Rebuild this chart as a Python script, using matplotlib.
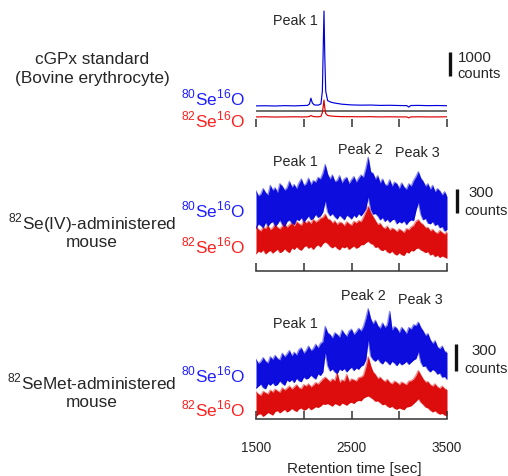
import numpy as np
import matplotlib.pyplot as plt

plt.rcParams['font.family'] = 'Liberation Sans'
plt.rcParams['mathtext.fontset'] = 'custom'
plt.rcParams['mathtext.rm'] = 'Liberation Sans'

# retention time grid (sec), every 25 s
t = np.arange(1500, 3501, 25)

# cGPx standard: thin traces (counts, offset for display)
t_std = [1500, 1600, 1700, 1800, 1900, 2000, 2040, 2060, 2075, 2090, 2110, 2150,
         2180, 2195, 2205, 2212, 2220, 2230, 2250, 2280, 2320, 2400, 2500, 2600,
         2700, 2800, 2900, 3000, 3080, 3100, 3120, 3200, 3300, 3400, 3500]
std_80 = [880, 885, 875, 890, 880, 895, 900, 960, 1200, 1000, 920, 910,
          960, 1500, 3500, 4830, 3000, 1500, 1100, 1040, 1000, 950, 920, 910,
          915, 900, 905, 895, 890, 830, 895, 900, 890, 895, 885]
std_82 = [420, 425, 415, 420, 425, 420, 425, 440, 480, 450, 430, 425,
          440, 600, 900, 1125, 800, 560, 480, 460, 445, 430, 430, 425,
          430, 420, 425, 420, 420, 380, 420, 425, 420, 420, 425]

# 82Se(IV)-administered mouse: noisy band, upper / lower envelope (counts)
se4_80_hi = [1000, 940, 960, 1030, 980, 950, 1070, 1010, 1040, 980,
             1090, 1060, 1010, 1040, 1120, 1050, 1080, 1030, 1100, 1150,
             1070, 1090, 1160, 1080, 1130, 1110, 1170, 1150, 1220, 1330,
             1210, 1150, 1200, 1120, 1130, 1190, 1100, 1150, 1170, 1090,
             1140, 1180, 1110, 1160, 1200, 1170, 1280, 1420, 1240, 1220,
             1150, 1190, 1100, 1150, 1080, 1070, 1140, 1060, 1110, 1090,
             1030, 1100, 1050, 1020, 1090, 1060, 1130, 1180, 1240, 1160,
             1120, 1060, 1090, 1020, 1070, 990, 1030, 1000, 950, 990,
             930]
se4_80_lo = [530, 590, 570, 540, 610, 560, 600, 620, 560, 590,
             640, 580, 560, 620, 640, 600, 580, 650, 630, 670,
             610, 650, 690, 640, 660, 710, 670, 690, 740, 880,
             740, 690, 720, 680, 650, 700, 670, 640, 700, 680,
             650, 700, 670, 720, 690, 730, 780, 930, 770, 710,
             720, 690, 640, 670, 620, 650, 610, 640, 650, 590,
             620, 600, 630, 580, 620, 640, 630, 760, 860, 710,
             640, 660, 600, 590, 620, 570, 590, 540, 560, 500,
             520]
se4_82_hi = [560, 520, 500, 545, 530, 570, 515, 540, 580, 545,
             525, 560, 590, 545, 575, 600, 560, 615, 590, 570,
             630, 600, 625, 590, 645, 610, 630, 660, 670, 710,
             650, 640, 600, 625, 580, 610, 600, 565, 615, 590,
             570, 620, 600, 630, 615, 670, 740, 810, 730, 680,
             630, 580, 595, 550, 530, 560, 510, 535, 520, 490,
             525, 505, 480, 530, 515, 550, 570, 620, 640, 600,
             580, 540, 545, 500, 520, 485, 470, 505, 480, 460,
             490]
se4_82_lo = [215, 250, 235, 265, 215, 240, 260, 225, 250, 275,
             230, 245, 280, 250, 230, 290, 270, 305, 275, 260,
             300, 320, 285, 305, 270, 310, 330, 300, 345, 365,
             345, 310, 290, 315, 285, 265, 305, 290, 310, 270,
             295, 315, 285, 300, 330, 330, 355, 375, 345, 335,
             295, 305, 270, 255, 275, 240, 225, 250, 215, 200,
             230, 205, 195, 240, 225, 260, 250, 280, 290, 265,
             250, 230, 245, 200, 215, 180, 200, 170, 190, 175,
             160]

# 82SeMet-administered mouse
met_80_hi = [670, 625, 645, 690, 650, 630, 700, 670, 715, 680,
             665, 740, 700, 730, 770, 710, 750, 720, 780, 800,
             740, 770, 820, 770, 790, 840, 800, 850, 870, 1040,
             970, 950, 910, 970, 950, 920, 1000, 960, 930, 990,
             1010, 950, 980, 1020, 990, 1040, 1130, 1240, 1130, 1070,
             1110, 1050, 1020, 1080, 1030, 1060, 1210, 1000, 1040, 1020,
             970, 1030, 1000, 960, 1030, 1010, 1060, 1050, 1090, 1030,
             990, 940, 960, 890, 850, 880, 810, 790, 820, 760,
             750]
met_80_lo = [345, 370, 395, 355, 340, 400, 380, 410, 375, 390,
             430, 400, 380, 440, 420, 445, 410, 460, 430, 420,
             475, 450, 460, 495, 470, 450, 510, 490, 530, 750,
             600, 540, 565, 530, 510, 565, 545, 570, 530, 560,
             585, 545, 575, 560, 595, 610, 670, 890, 710, 670,
             650, 680, 640, 620, 660, 640, 610, 650, 630, 600,
             640, 610, 625, 650, 615, 640, 665, 680, 760, 640,
             590, 600, 555, 530, 560, 540, 505, 520, 470, 480,
             445]
met_82_hi = [305, 280, 265, 310, 295, 280, 325, 300, 335, 315,
             300, 350, 325, 345, 370, 335, 360, 385, 350, 340,
             385, 370, 395, 360, 380, 410, 390, 420, 450, 470,
             445, 420, 450, 430, 520, 410, 440, 425, 500, 420,
             450, 440, 425, 465, 470, 490, 580, 700, 600, 530,
             500, 455, 470, 440, 420, 445, 410, 395, 425, 410,
             385, 415, 400, 385, 425, 430, 450, 490, 545, 495,
             450, 415, 420, 385, 370, 395, 360, 345, 370, 340,
             330]
met_82_lo = [30, 55, 60, 30, 50, 75, 60, 45, 85, 95,
             70, 90, 110, 80, 95, 120, 100, 85, 115, 125,
             100, 110, 135, 105, 120, 140, 130, 145, 170, 165,
             175, 160, 145, 175, 165, 150, 180, 170, 155, 180,
             190, 175, 200, 210, 205, 235, 250, 260, 245, 225,
             200, 205, 185, 160, 170, 145, 130, 145, 120, 110,
             125, 115, 105, 135, 140, 150, 175, 200, 230, 190,
             165, 135, 125, 100, 80, 95, 70, 55, 65, 45,
             35]

xticks = [1500, 2000, 2500, 3000, 3500]
xticklabels = ['1500', '', '2500', '', '3500']

BLUE = '#0000DC'
RED = '#DC0000'
BLUE_T = '#1E1EFF'
RED_T = '#FF1E1E'
DARK = '#262626'

W, H = 508, 477
fig = plt.figure(figsize=(W / 100, H / 100), dpi=100)


def ftext(x, y, s, **kw):
    # place text by pixel position
    kw.setdefault('color', DARK)
    kw.setdefault('ha', 'center')
    kw.setdefault('va', 'center')
    fig.text(x / W, 1 - y / H, s, **kw)


def make_ax(ybot, ymax):
    ax = fig.add_axes([256 / W, 1 - ybot / H, 191 / W, 120 / H])
    ax.set_xlim(1500, 3500)
    ax.set_ylim(0, ymax)
    for s in ['top', 'right', 'left']:
        ax.spines[s].set_visible(False)
    ax.spines['bottom'].set_color('#333333')
    ax.spines['bottom'].set_linewidth(1.1)
    ax.set_yticks([])
    ax.set_xticks(xticks)
    ax.tick_params(axis='x', direction='in', length=6, width=1.1, color='#333333')
    ax.patch.set_alpha(0)
    return ax


def band(ax, lo, hi, c):
    ax.fill_between(t, lo, hi, color=c, lw=0, alpha=0.95)
    ax.plot(t, hi, color=c, lw=1.0, alpha=0.45)
    ax.plot(t, lo, color=c, lw=1.0, alpha=0.45)


def scale_bar(ax, x, y0, h):
    ax.plot([x, x], [y0, y0 + h], color='#111111', lw=2.4, clip_on=False,
            solid_capstyle='butt')


# ---- panel 1: cGPx standard
ax1 = make_ax(128, 5000)
ax1.spines['bottom'].set_visible(False)
ax1.set_xticklabels([])
ax1.axhline(667, color='#444444', lw=1.1)
ax1.plot(t_std, std_82, color=RED, lw=0.85)
ax1.plot(t_std, std_80, color=BLUE, lw=0.85)
scale_bar(ax1, 3531, 2125, 1000)

# ---- panel 2: 82Se(IV)
ax2 = make_ax(272, 1500)
ax2.set_xticklabels([])
band(ax2, se4_82_lo, se4_82_hi, RED)
band(ax2, se4_80_lo, se4_80_hi, BLUE)
scale_bar(ax2, 3605, 725, 300)

# ---- panel 3: 82SeMet
ax3 = make_ax(420, 1350)
ax3.set_xticklabels(xticklabels, fontsize=9.8, color=DARK)
ax3.tick_params(axis='x', pad=15)
band(ax3, met_82_lo, met_82_hi, RED)
band(ax3, met_80_lo, met_80_hi, BLUE)
scale_bar(ax3, 3594, 540, 300)

ftext(354, 469, 'Retention time [sec]', fontsize=11)

# peak labels
ftext(295, 21, 'Peak 1', fontsize=10.4)
ftext(295, 162, 'Peak 1', fontsize=10.4)
ftext(360, 150, 'Peak 2', fontsize=10.4)
ftext(417, 153, 'Peak 3', fontsize=10.4)
ftext(295, 324, 'Peak 1', fontsize=10.4)
ftext(363, 296, 'Peak 2', fontsize=10.4)
ftext(420, 300, 'Peak 3', fontsize=10.4)

# scale bar labels
ftext(475, 58, '1000', fontsize=10.8)
ftext(479, 74, 'counts', fontsize=10.5)
ftext(481, 193, '300', fontsize=10.8)
ftext(486, 211, 'counts', fontsize=10.5)
ftext(484, 351, '300', fontsize=10.8)
ftext(486, 369, 'counts', fontsize=10.5)

# sample labels
ftext(92, 60, 'cGPx standard', fontsize=12.4)
ftext(92, 78, '(Bovine erythrocyte)', fontsize=12.4)
ftext(92, 223, r'$^{82}$Se(IV)-administered', fontsize=12.4)
ftext(92, 243, 'mouse', fontsize=12.4)
ftext(92, 382, r'$^{82}$SeMet-administered', fontsize=12.4)
ftext(92, 403, 'mouse', fontsize=12.4)

# isotope labels
iso80 = r'$^{80}$Se$^{16}$O'
iso82 = r'$^{82}$Se$^{16}$O'
for y80, y82 in [(98, 120), (210, 246), (375, 409)]:
    ftext(245, y80, iso80, fontsize=12.4, ha='right', color=BLUE_T)
    ftext(245, y82, iso82, fontsize=12.4, ha='right', color=RED_T)

fig.savefig('out.png', dpi=100)
